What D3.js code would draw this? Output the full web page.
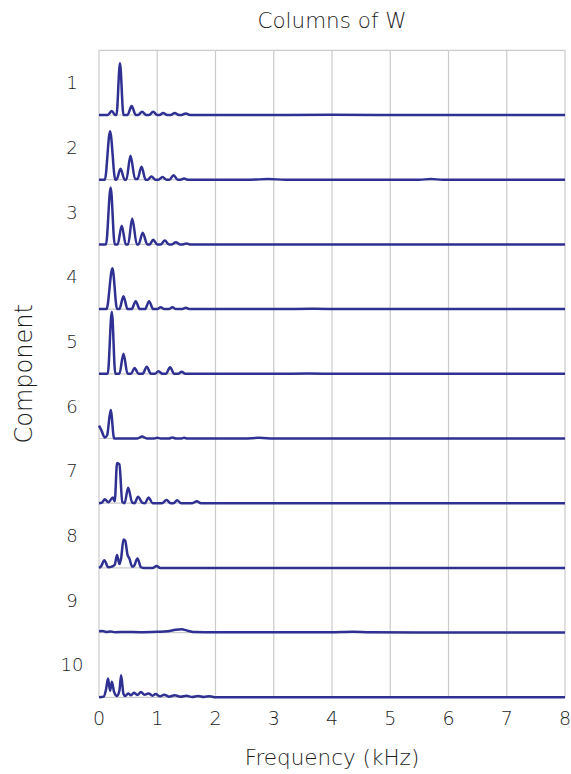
<!DOCTYPE html>
<html>
<head>
<meta charset="utf-8">
<script src="https://cdn.jsdelivr.net/npm/d3@7/dist/d3.min.js"></script>
<style>
  html, body { margin: 0; padding: 0; background: #fff; }
  svg { display: block; }
  text { font-family: "DejaVu Sans", "Open Sans", sans-serif; font-weight: 200; fill: #1c1c1c; }
</style>
</head>
<body>
<svg id="chart" width="571" height="774"></svg>
<script>
// Spectral profile of each column of W: [frequency (kHz), amplitude] pairs.
const comp1 = [[0,0],[0.15,0],[0.22,0.06],[0.28,0],[0.30,0],[0.36,0.80],[0.42,0],[0.49,0],[0.56,0.14],[0.63,0],[0.67,0],[0.74,0.05],[0.81,0],[0.86,0],[0.93,0.05],[1.00,0],[1.04,0],[1.10,0.03],[1.17,0],[1.23,0],[1.30,0.03],[1.37,0],[1.42,0],[1.49,0.025],[1.56,0],[2.5,0],[4,0.003],[5.5,0],[8,0]];
const comp2 = [[0,0],[0.10,0],[0.19,0.75],[0.28,0],[0.30,0],[0.37,0.17],[0.44,0],[0.47,0],[0.54,0.37],[0.62,0.01],[0.66,0.01],[0.73,0.20],[0.80,0],[0.84,0],[0.90,0.05],[0.97,0],[1.02,0],[1.09,0.04],[1.16,0],[1.21,0],[1.28,0.07],[1.35,0],[1.40,0],[1.46,0.02],[1.52,0],[2.6,0],[2.9,0.01],[3.2,0],[5.5,0],[5.7,0.01],[5.9,0],[8,0]];
const comp3 = [[0,0],[0.12,0],[0.20,0.88],[0.27,0],[0.32,0],[0.39,0.29],[0.46,0],[0.50,0],[0.57,0.40],[0.65,0],[0.68,0],[0.75,0.18],[0.83,0],[0.87,0],[0.93,0.07],[1.00,0],[1.06,0],[1.13,0.06],[1.20,0],[1.25,0],[1.32,0.035],[1.39,0],[1.44,0],[1.50,0.015],[1.56,0],[3,0],[8,0]];
const comp4 = [[0,0],[0.13,0],[0.23,0.63],[0.31,0],[0.35,0],[0.42,0.20],[0.49,0],[0.56,0],[0.63,0.12],[0.70,0],[0.79,0],[0.86,0.12],[0.93,0],[1.00,0],[1.06,0.03],[1.12,0],[1.20,0],[1.26,0.03],[1.32,0],[1.43,0],[1.49,0.02],[1.55,0],[3,0],[3.7,0.005],[4.2,0],[8,0]];
const comp5 = [[0,0],[0.15,0],[0.22,0.96],[0.28,0],[0.35,0],[0.42,0.31],[0.49,0],[0.55,0],[0.61,0.09],[0.68,0],[0.75,0],[0.82,0.11],[0.89,0],[0.96,0],[1.02,0.04],[1.09,0],[1.15,0],[1.22,0.10],[1.29,0],[1.36,0],[1.42,0.03],[1.48,0],[3,0],[3.6,0.005],[4.1,0],[8,0]];
const comp6 = [[0,0.20],[0.04,0.13],[0.10,0.015],[0.14,0.05],[0.20,0.44],[0.26,0],[0.40,0],[0.66,0],[0.74,0.03],[0.82,0],[0.95,0],[1.00,0.012],[1.06,0],[1.20,0],[1.26,0.015],[1.32,0],[1.42,0],[1.46,0.01],[1.52,0],[2.5,0],[2.75,0.01],[3.0,0],[8,0]];
const comp7 = [[0,0],[0.05,0.01],[0.10,0.06],[0.16,0.015],[0.24,0.09],[0.27,0.03],[0.31,0.62],[0.35,0.60],[0.40,0.02],[0.44,0],[0.50,0.24],[0.57,0.01],[0.61,0],[0.67,0.10],[0.74,0.01],[0.79,0],[0.85,0.09],[0.92,0],[1.08,0],[1.16,0.05],[1.23,0],[1.28,0],[1.34,0.045],[1.41,0],[1.60,0],[1.68,0.03],[1.75,0],[8,0]];
const comp8 = [[0,0],[0.04,0.03],[0.09,0.12],[0.16,0.01],[0.22,0.02],[0.27,0.05],[0.31,0.20],[0.35,0.06],[0.38,0.15],[0.42,0.44],[0.45,0.42],[0.49,0.20],[0.52,0.15],[0.57,0.02],[0.60,0.03],[0.66,0.145],[0.72,0.01],[0.76,0],[0.92,0],[0.99,0.03],[1.05,0],[8,0]];
const comp9 = [[0,0.02],[0.06,0.025],[0.12,0.01],[0.20,0.018],[0.28,0.005],[0.45,0.01],[0.70,0.005],[1.00,0.012],[1.18,0.02],[1.32,0.045],[1.42,0.05],[1.52,0.03],[1.65,0.008],[2.0,0.004],[3.6,0.004],[4.0,0.006],[4.35,0.014],[4.65,0.005],[5.5,0.002],[8,0]];
const comp10 = [[0,0],[0.08,0.01],[0.12,0.12],[0.155,0.29],[0.19,0.10],[0.22,0.24],[0.26,0.08],[0.31,0.02],[0.35,0.10],[0.38,0.34],[0.42,0.05],[0.45,0.02],[0.50,0.06],[0.55,0.03],[0.60,0.07],[0.66,0.035],[0.72,0.08],[0.78,0.04],[0.85,0.06],[0.92,0.025],[0.97,0.05],[1.05,0.015],[1.12,0.04],[1.20,0.01],[1.30,0.03],[1.40,0.01],[1.50,0.025],[1.60,0.005],[1.70,0.02],[1.80,0.005],[1.90,0.018],[2.00,0],[8,0]];

const components = [comp1, comp2, comp3, comp4, comp5, comp6, comp7, comp8, comp9, comp10];
const componentLabels = ["1", "2", "3", "4", "5", "6", "7", "8", "9", "10"];
const freqTicks = [0, 1, 2, 3, 4, 5, 6, 7, 8];

const svg = d3.select("#chart");
const plotLeft = 99, plotRight = 565, plotTop = 50.3, rowH = 64.7;
const plotBottom = plotTop + rowH * components.length;

const x = d3.scaleLinear().domain([0, 8]).range([plotLeft, plotRight]);
const row = d3.scaleBand().domain(componentLabels).range([plotTop, plotBottom]).padding(0);
const amp = d3.scaleLinear().domain([0, 1]).range([0, rowH]);

const grid = svg.append("g").attr("stroke", "#cbcbcb").attr("stroke-width", 1.2).attr("fill", "none");
// vertical grid lines at each frequency tick
grid.selectAll("line.v").data(freqTicks).join("line")
  .attr("class", "v")
  .attr("x1", d => x(d)).attr("x2", d => x(d))
  .attr("y1", plotTop).attr("y2", plotBottom);
// subplot frames
grid.selectAll("line.h").data(componentLabels).join("line")
  .attr("class", "h")
  .attr("x1", plotLeft).attr("x2", plotRight)
  .attr("y1", d => row(d)).attr("y2", d => row(d));
grid.append("line").attr("x1", plotLeft).attr("x2", plotRight).attr("y1", plotBottom).attr("y2", plotBottom);

// spectra, one per row, baseline at the bottom of each band
const lines = svg.append("g");
components.forEach((pts, i) => {
  const base = row(componentLabels[i]) + row.bandwidth();
  const line = d3.line()
    .x(d => x(d[0]))
    .y(d => base - amp(d[1]))
    .curve(d3.curveMonotoneX);
  lines.append("path")
    .attr("d", line(pts))
    .attr("fill", "none")
    .attr("stroke", "#2e3192")
    .attr("stroke-width", 2.5)
    .attr("stroke-linejoin", "round")
    .attr("stroke-linecap", "butt");
});

// row labels
svg.append("g").selectAll("text").data(componentLabels).join("text")
  .attr("x", 72)
  .attr("y", d => row(d) + row.bandwidth() / 2)
  .attr("text-anchor", "middle")
  .attr("dominant-baseline", "central")
  .attr("font-size", 18)
  .text(d => d);

// frequency tick labels
svg.append("g").selectAll("text").data(freqTicks).join("text")
  .attr("x", d => x(d))
  .attr("y", 725)
  .attr("text-anchor", "middle")
  .attr("font-size", 19)
  .text(d => d);

svg.append("text")
  .attr("x", (plotLeft + plotRight) / 2).attr("y", 765)
  .attr("text-anchor", "middle").attr("font-size", 21.5)
  .text("Frequency (kHz)");

svg.append("text")
  .attr("transform", `translate(32,${(plotTop + plotBottom) / 2}) rotate(-90)`)
  .attr("text-anchor", "middle").attr("font-size", 24)
  .text("Component");

svg.append("text")
  .attr("x", (plotLeft + plotRight) / 2).attr("y", 28)
  .attr("text-anchor", "middle").attr("font-size", 21.5)
  .text("Columns of W");
</script>
</body>
</html>
